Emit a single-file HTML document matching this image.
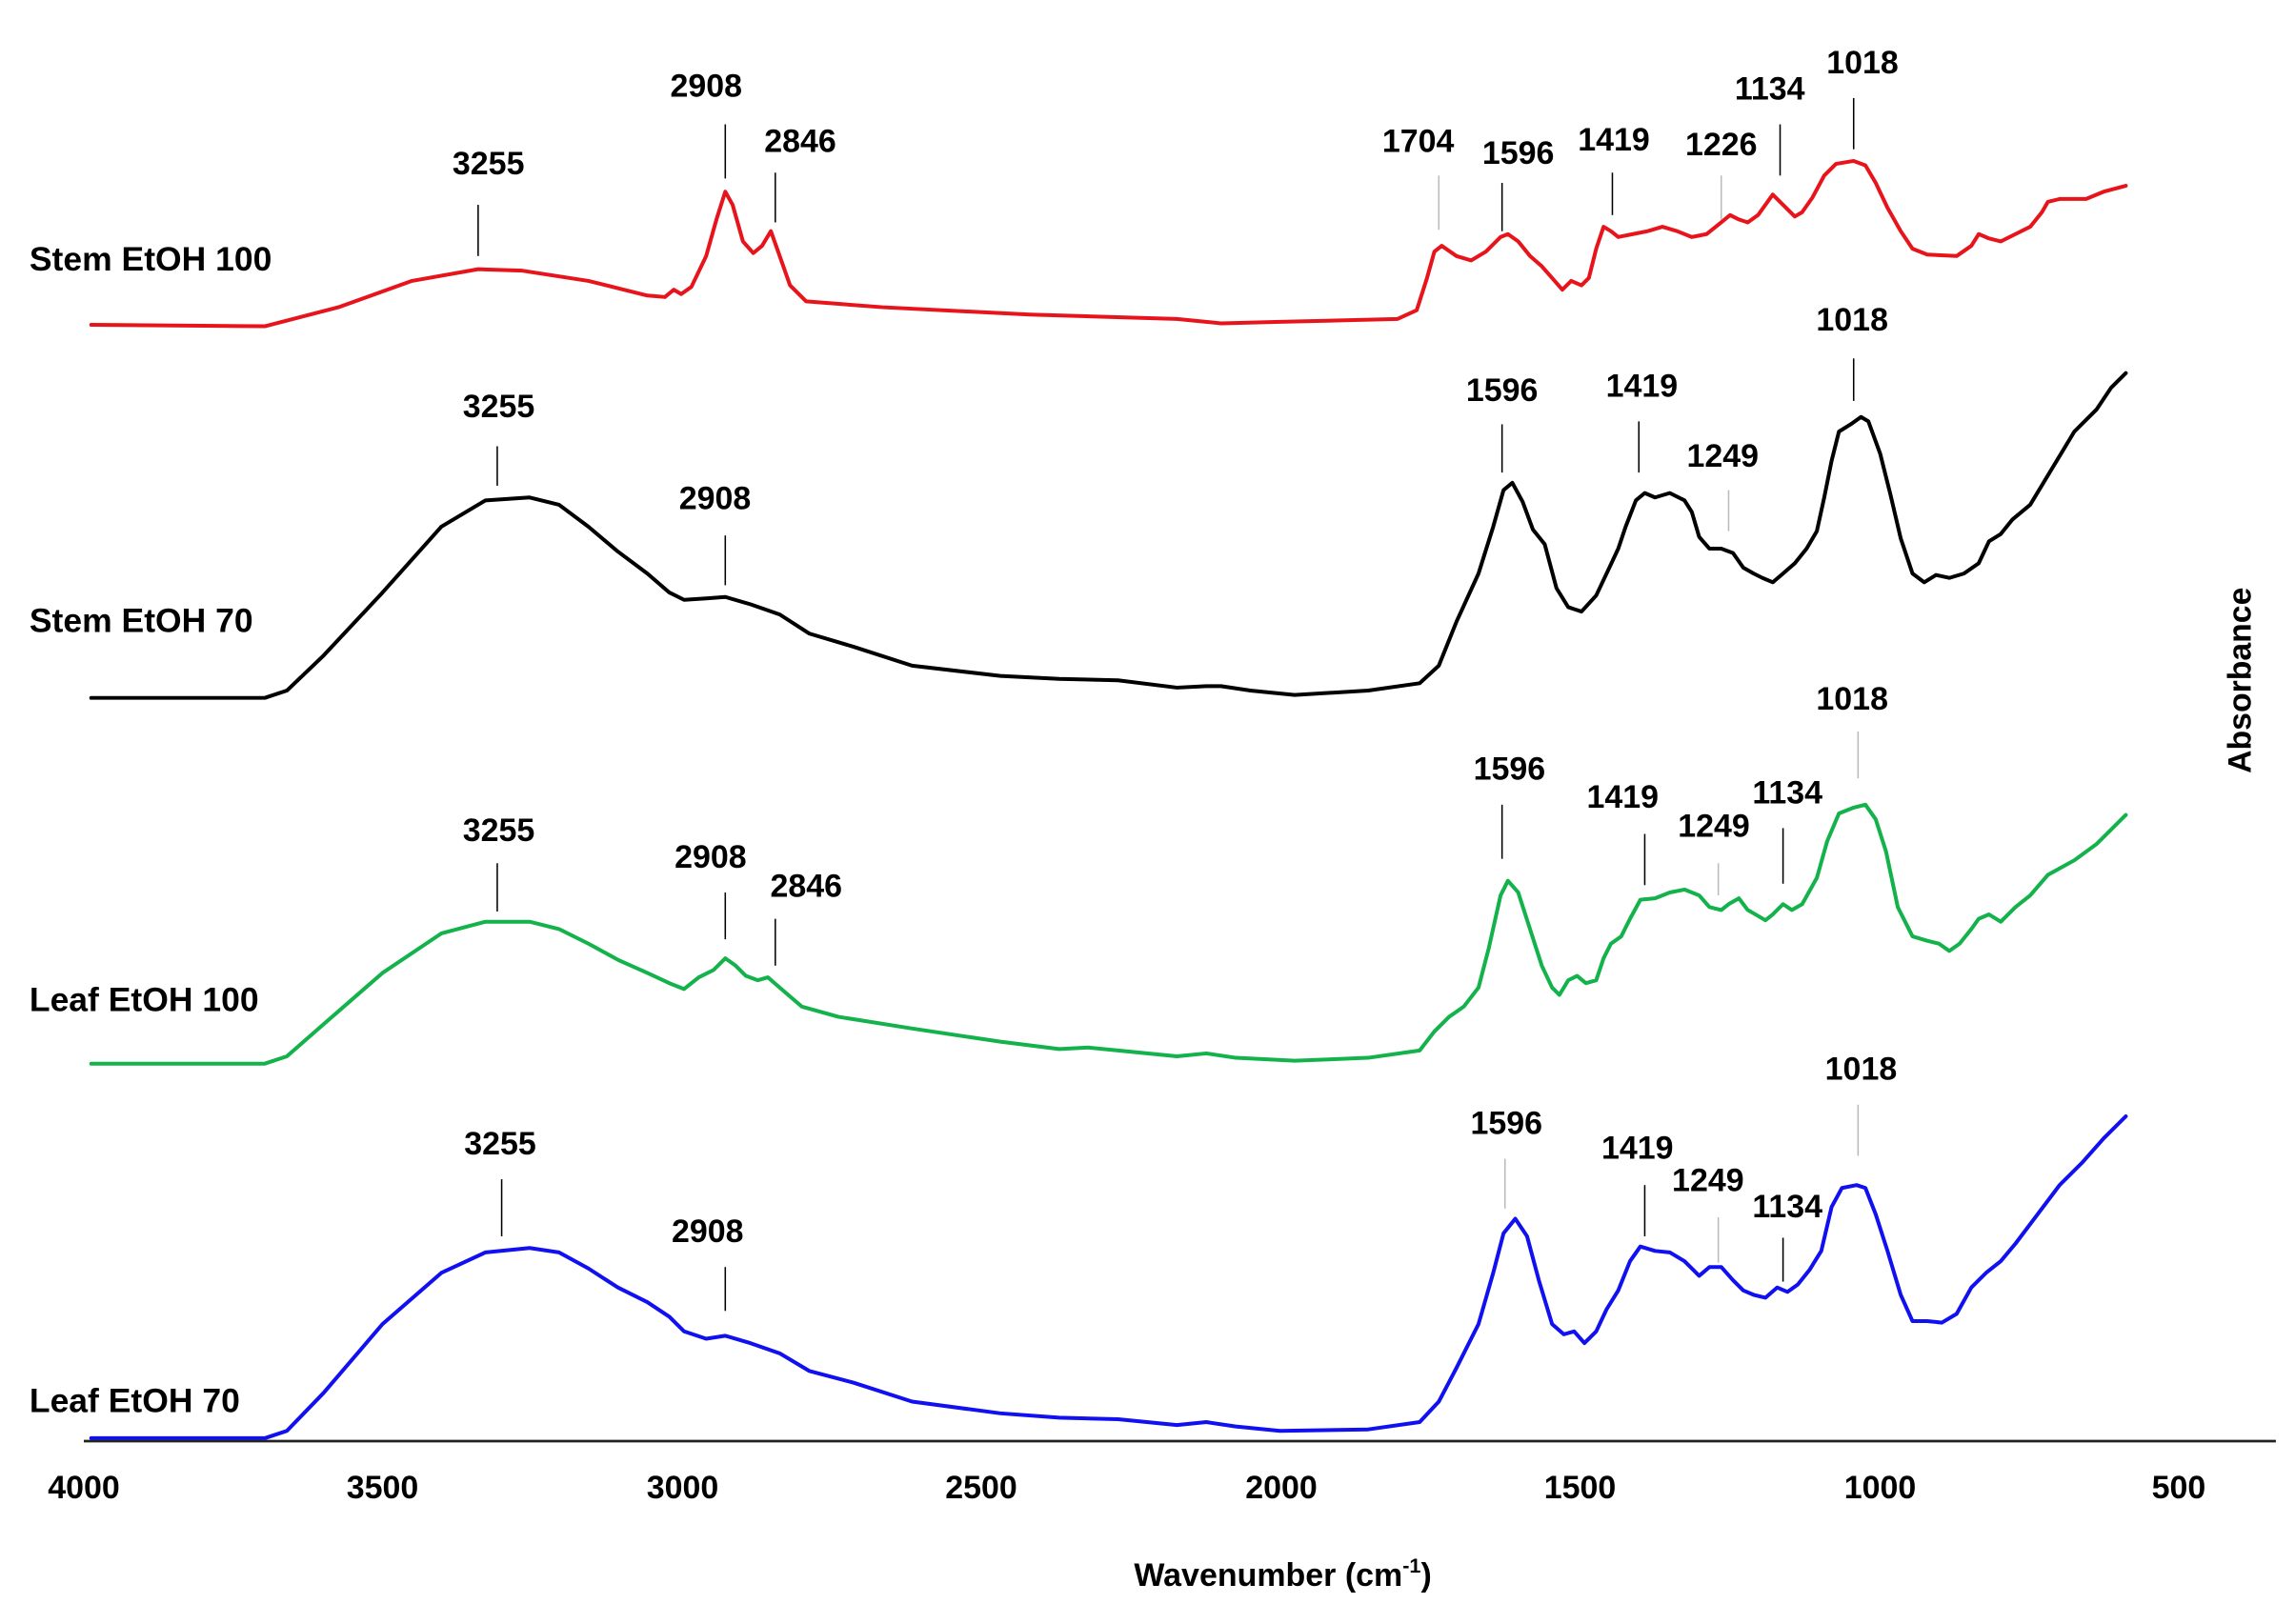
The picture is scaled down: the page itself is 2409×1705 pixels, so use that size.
<!DOCTYPE html>
<html><head><meta charset="utf-8"><style>
html,body{margin:0;padding:0;background:#fff;}
svg{display:block;}
text{font-family:"Liberation Sans",Arial,sans-serif;font-weight:bold;fill:#000;}
</style></head><body>
<svg width="2409" height="1705" viewBox="0 0 1560 1110" preserveAspectRatio="none" xmlns="http://www.w3.org/2000/svg">
<rect width="1560" height="1110" fill="#fff"/>
<g fill="none" stroke-width="2.6" stroke-linejoin="round" stroke-linecap="round">
<polyline stroke="#e8141b" points="62,222 180,223 230,210 280,192 325,184 355,185 400,192 440,202 452,203 458,198 463,201 470,196 480,175 487,150 493,131 498,140 505,165 512,173 518,168 524,158 530,175 537,195 548,206 600,210 700,215 800,218 830,221 870,220 950,218 963,212 970,190 975,172 980,168 990,175 1000,178 1010,172 1020,162 1025,160 1032,165 1040,175 1048,182 1055,190 1062,198 1068,192 1075,195 1080,190 1085,170 1090,155 1095,158 1100,162 1110,160 1120,158 1130,155 1140,158 1150,162 1160,160 1170,152 1176,147 1182,150 1188,152 1195,147 1200,140 1205,133 1212,140 1220,148 1225,145 1232,135 1240,120 1248,112 1260,110 1268,113 1275,125 1283,142 1292,158 1300,170 1310,174 1330,175 1340,168 1345,160 1352,163 1360,165 1370,160 1380,155 1388,145 1392,138 1400,136 1418,136 1430,131 1445,127"/>
<polyline stroke="#000" points="62,477 180,477 195,472 220,448 260,405 300,360 330,342 360,340 380,345 400,360 420,377 440,392 455,405 465,410 480,409 493,408 510,413 530,420 550,433 580,442 620,455 680,462 720,464 760,465 800,470 820,469 830,469 850,472 880,475 930,472 965,467 978,455 990,425 1005,392 1015,360 1022,335 1028,330 1035,343 1042,362 1050,372 1058,402 1066,415 1075,418 1085,407 1093,390 1100,375 1105,360 1112,342 1118,337 1125,340 1135,337 1145,342 1150,350 1155,367 1162,375 1170,375 1178,378 1185,388 1192,392 1198,395 1205,398 1212,392 1220,385 1228,375 1235,363 1240,340 1245,315 1250,295 1258,290 1265,285 1270,288 1278,310 1285,338 1292,368 1300,392 1308,398 1316,393 1325,395 1335,392 1345,385 1352,370 1360,365 1368,355 1380,345 1395,320 1410,295 1425,280 1435,265 1445,255"/>
<polyline stroke="#13b24b" points="62,727 180,727 195,722 220,700 260,665 300,638 330,630 360,630 380,635 400,645 420,656 440,665 455,672 465,676 475,668 485,663 493,655 500,660 507,667 515,670 522,668 530,675 545,688 570,695 620,703 680,712 720,717 740,716 760,718 800,722 820,720 840,723 880,725 930,723 965,718 975,705 985,695 995,688 1005,675 1012,648 1020,612 1025,602 1032,610 1040,635 1048,660 1055,675 1060,680 1066,670 1072,667 1078,672 1085,670 1090,655 1095,645 1102,640 1108,628 1115,615 1125,614 1135,610 1145,608 1155,612 1162,620 1170,622 1175,618 1182,614 1188,622 1195,626 1200,629 1205,625 1212,618 1218,622 1225,618 1235,600 1242,575 1250,556 1260,552 1268,550 1275,560 1282,582 1290,620 1300,640 1310,643 1318,645 1325,650 1332,645 1340,635 1345,628 1352,625 1360,630 1370,620 1380,612 1392,598 1410,588 1425,577 1435,567 1445,557"/>
<polyline stroke="#1010f0" points="62,983 180,983 195,978 220,952 260,905 300,870 330,856 360,853 380,856 400,867 420,880 440,890 455,900 465,910 480,915 493,913 510,918 530,925 550,937 580,945 620,958 680,966 720,969 760,970 800,974 820,972 840,975 870,978 930,977 965,972 978,958 990,935 1005,905 1015,870 1022,843 1030,833 1038,845 1046,875 1055,905 1063,912 1070,910 1077,918 1085,910 1092,895 1100,882 1108,862 1115,852 1125,855 1135,856 1145,862 1155,872 1162,866 1170,866 1178,875 1185,882 1192,885 1200,887 1208,880 1215,883 1222,878 1230,868 1238,855 1245,825 1252,812 1262,810 1268,812 1275,830 1283,855 1292,885 1300,903 1310,903 1320,904 1330,898 1340,880 1350,870 1360,862 1370,850 1385,830 1400,810 1415,795 1430,778 1445,763"/>
</g>
<line x1="57" y1="985" x2="1547" y2="985" stroke="#222" stroke-width="1.8"/>
<g stroke="#000" stroke-width="1">
<line x1="325" y1="140" x2="325" y2="175"/><line x1="493" y1="85" x2="493" y2="122"/><line x1="527" y1="118" x2="527" y2="152"/>
<line x1="978" y1="120" x2="978" y2="157" stroke="#bbb"/><line x1="1021" y1="125" x2="1021" y2="158"/><line x1="1096" y1="118" x2="1096" y2="147"/>
<line x1="1170" y1="120" x2="1170" y2="150" stroke="#bbb"/><line x1="1210" y1="85" x2="1210" y2="120"/><line x1="1260" y1="67" x2="1260" y2="102"/>
<line x1="338" y1="305" x2="338" y2="332"/><line x1="493" y1="366" x2="493" y2="400"/><line x1="1021" y1="290" x2="1021" y2="323"/>
<line x1="1114" y1="288" x2="1114" y2="323"/><line x1="1175" y1="335" x2="1175" y2="363" stroke="#bbb"/><line x1="1260" y1="245" x2="1260" y2="274"/>
<line x1="338" y1="590" x2="338" y2="623"/><line x1="493" y1="610" x2="493" y2="642"/><line x1="527" y1="628" x2="527" y2="660"/>
<line x1="1021" y1="550" x2="1021" y2="587"/><line x1="1118" y1="570" x2="1118" y2="605"/><line x1="1168" y1="590" x2="1168" y2="612" stroke="#bbb"/>
<line x1="1212" y1="566" x2="1212" y2="604"/><line x1="1263" y1="500" x2="1263" y2="532" stroke="#bbb"/>
<line x1="341" y1="806" x2="341" y2="845"/><line x1="493" y1="866" x2="493" y2="896"/><line x1="1023" y1="792" x2="1023" y2="826" stroke="#bbb"/>
<line x1="1118" y1="810" x2="1118" y2="845"/><line x1="1168" y1="832" x2="1168" y2="863" stroke="#bbb"/><line x1="1212" y1="846" x2="1212" y2="876"/>
<line x1="1263" y1="755" x2="1263" y2="790" stroke="#bbb"/>
</g>
<g font-size="22" text-anchor="middle">
<text x="332" y="119">3255</text><text x="480" y="66">2908</text><text x="544" y="104">2846</text>
<text x="964" y="104">1704</text><text x="1032" y="112">1596</text><text x="1097" y="103">1419</text>
<text x="1170" y="106">1226</text><text x="1203" y="68">1134</text><text x="1266" y="50">1018</text>
<text x="339" y="285">3255</text><text x="486" y="348">2908</text><text x="1021" y="274">1596</text>
<text x="1116" y="271">1419</text><text x="1171" y="319">1249</text><text x="1259" y="226">1018</text>
<text x="339" y="575">3255</text><text x="483" y="593">2908</text><text x="548" y="613">2846</text>
<text x="1026" y="533">1596</text><text x="1103" y="552">1419</text><text x="1165" y="572">1249</text>
<text x="1215" y="549">1134</text><text x="1259" y="485">1018</text>
<text x="340" y="789">3255</text><text x="481" y="849">2908</text><text x="1024" y="775">1596</text>
<text x="1113" y="792">1419</text><text x="1161" y="814">1249</text><text x="1215" y="832">1134</text><text x="1265" y="738">1018</text>
</g>
<g font-size="23">
<text x="20" y="185">Stem EtOH 100</text><text x="20" y="432">Stem EtOH 70</text>
<text x="20" y="691">Leaf EtOH 100</text><text x="20" y="965">Leaf EtOH 70</text>
</g>
<g font-size="22" text-anchor="middle">
<text x="57" y="1024">4000</text><text x="260" y="1024">3500</text><text x="464" y="1024">3000</text>
<text x="667" y="1024">2500</text><text x="871" y="1024">2000</text><text x="1074" y="1024">1500</text>
<text x="1278" y="1024">1000</text><text x="1481" y="1024">500</text>
<text x="872" y="1084">Wavenumber (cm<tspan font-size="14" dy="-9">-1</tspan><tspan dy="9">)</tspan></text>
<text transform="translate(1530,465) rotate(-90)">Absorbance</text>
</g>
</svg>
</body></html>
